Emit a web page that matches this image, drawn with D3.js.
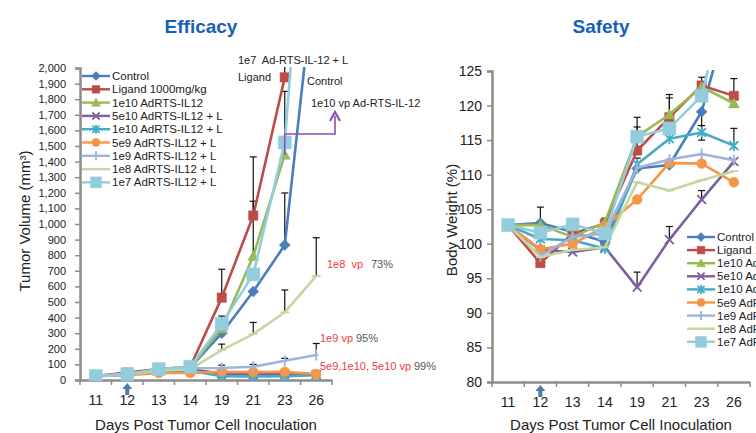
<!DOCTYPE html>
<html>
<head>
<meta charset="utf-8">
<script src="https://cdn.jsdelivr.net/npm/d3@7"></script>
<style>
  body { margin: 0; background: #fff; overflow: hidden; }
  svg { display: block; font-family: "Liberation Sans", Arial, sans-serif; }
  text { white-space: pre; }
</style>
</head>
<body>
<svg id="chart" width="756" height="433"></svg>
<script>
// ---- data ----
const days = ['11', '12', '13', '14', '19', '21', '23', '26'];
const seriesNames = [
  'Control', 'Ligand 1000mg/kg', '1e10 AdRTS-IL12', '5e10 AdRTS-IL12 + L',
  '1e10 AdRTS-IL12 + L', '5e9 AdRTS-IL12 + L', '1e9 AdRTS-IL12 + L',
  '1e8 AdRTS-IL12 + L', '1e7 AdRTS-IL12 + L'
];
const seriesColors = ['#4a7ebb', '#be4b48', '#98b954', '#7d5fa0', '#46aac5', '#f59646', '#9fb3dc', '#c4d79e', '#93cddd'];
const seriesMarkers = ['diamond', 'square', 'triangle', 'x', 'asterisk', 'circle', 'plus', 'dash', 'bigsquare'];

// tumor volume (mm3)
const tumorControl  = [25, 38, 68, 80, 300, 567, 865, 2700];
const tumorLigand   = [25, 48, 70, 85, 528, 1054, 1940, null];
const tumor1e10     = [25, 40, 65, 80, 330, 794, 1444, null];
const tumor5e10L    = [25, 38, 60, 70, 40, 35, 38, 35];
const tumor1e10L    = [25, 35, 58, 60, 25, 22, 25, 30];
const tumor5e9L     = [25, 30, 45, 45, 53, 51, 52, 38];
const tumor1e9L     = [25, 40, 62, 75, 77, 85, 123, 160];
const tumor1e8L     = [25, 35, 60, 70, 192, 294, 434, 667];
const tumor1e7L     = [25, 37, 70, 85, 360, 677, 1523, 4100];
const tumorSeries = [tumorControl, tumorLigand, tumor1e10, tumor5e10L, tumor1e10L, tumor5e9L, tumor1e9L, tumor1e8L, tumor1e7L];
// upper error bars: [series index, day index, top value]
const tumorErrors = [
  [1, 4, 710], [2, 4, 410], [1, 5, 1430], [2, 5, 1146], [0, 6, 1199], [8, 6, 1850], [1, 6, 2100],
  [7, 4, 230], [7, 5, 369], [7, 6, 577], [7, 7, 912],
  [6, 4, 95], [6, 5, 100], [6, 6, 139], [6, 7, 234]
];
const tumorTicks = d3.range(0, 2001, 100);

// body weight (%)
const weightControl = [102.7, 103.0, 101.7, 100.3, 110.9, 111.4, 119.1, 135.9];
const weightLigand  = [102.7, 97.2, 101.5, 102.9, 113.5, 118.3, 122.9, 121.4];
const weight1e10    = [102.7, 102.7, 101.0, 103.1, 115.5, 118.7, 122.7, 120.3];
const weight5e10L   = [102.7, 99.1, 98.8, 99.5, 93.7, 100.6, 106.4, 111.9];
const weight1e10L   = [102.7, 100.7, 100.5, 99.3, 111.5, 115.2, 116.1, 114.2];
const weight5e9L    = [102.7, 99.2, 100.0, 102.5, 106.4, 111.7, 111.6, 108.9];
const weight1e9L    = [102.7, 98.2, 101.0, 101.5, 111.0, 112.2, 113.0, 112.1];
const weight1e8L    = [102.7, 98.1, 99.1, 99.5, 108.9, 107.7, 109.2, 110.5];
const weight1e7L    = [102.7, 101.6, 102.8, 101.5, 115.5, 116.7, 121.4, 140.5];
const weightSeries = [weightControl, weightLigand, weight1e10, weight5e10L, weight1e10L, weight5e9L, weight1e9L, weight1e8L, weight1e7L];
const weightErrors = [
  [0, 1, 105.3], [1, 3, 103.7], [2, 4, 118.3], [1, 4, 116.9], [4, 4, 112.4], [3, 4, 95.9],
  [1, 5, 121.6], [2, 5, 121.1], [3, 5, 102.5],
  [2, 6, 124.1], [4, 6, 117.1], [0, 6, 115.0], [3, 6, 107.7],
  [1, 7, 123.9], [4, 7, 116.7]
];
const weightTicks = d3.range(80, 126, 5);

const svg = d3.select('#chart');
const axisColor = '#8c8c8c';
const textColor = '#222';

function markerPath(type, r) {
  const p = d3.path();
  if (type === 'diamond') {
    p.moveTo(0, -r); p.lineTo(r, 0); p.lineTo(0, r); p.lineTo(-r, 0); p.closePath();
  } else if (type === 'square') {
    p.rect(-r * 0.85, -r * 0.85, r * 1.7, r * 1.7);
  } else if (type === 'bigsquare') {
    p.rect(-r, -r, r * 2, r * 2);
  } else if (type === 'triangle') {
    p.moveTo(0, -r); p.lineTo(r, r * 0.8); p.lineTo(-r, r * 0.8); p.closePath();
  } else if (type === 'circle') {
    p.arc(0, 0, r * 0.9, 0, Math.PI * 2);
  } else if (type === 'x') {
    p.moveTo(-r * 0.8, -r * 0.8); p.lineTo(r * 0.8, r * 0.8);
    p.moveTo(r * 0.8, -r * 0.8); p.lineTo(-r * 0.8, r * 0.8);
  } else if (type === 'asterisk') {
    p.moveTo(-r * 0.8, -r * 0.8); p.lineTo(r * 0.8, r * 0.8);
    p.moveTo(r * 0.8, -r * 0.8); p.lineTo(-r * 0.8, r * 0.8);
    p.moveTo(0, -r); p.lineTo(0, r);
  } else if (type === 'plus') {
    p.moveTo(0, -r); p.lineTo(0, r);
    p.moveTo(-r * 0.4, 0); p.lineTo(r * 0.4, 0);
  } else if (type === 'dash') {
    p.moveTo(-r * 0.8, 0); p.lineTo(r * 0.8, 0);
  }
  return p.toString();
}

function drawMarker(g, type, color, x, y, r) {
  const stroked = ['x', 'asterisk', 'plus', 'dash'].includes(type);
  g.append('path')
    .attr('transform', `translate(${x},${y})`)
    .attr('d', markerPath(type, r))
    .attr('fill', stroked ? 'none' : color)
    .attr('stroke', color)
    .attr('stroke-width', stroked ? 1.8 : 0.5);
}

function drawPanel(opt) {
  const { left, top, width, height, domain, ticks, tickFmt, tickFont, data, errors, id } = opt;
  const x = d3.scaleBand().domain(days).range([left, left + width]);
  const y = d3.scaleLinear().domain(domain).range([top + height, top]);
  const cx = d => x(d) + x.bandwidth() / 2;

  // y axis
  const yAxis = svg.append('g')
    .attr('transform', `translate(${left},0)`)
    .call(d3.axisLeft(y).tickValues(ticks).tickFormat(tickFmt).tickSize(5).tickPadding(opt.yPad));
  yAxis.select('.domain').attr('stroke', axisColor).attr('stroke-width', 2.5);
  yAxis.selectAll('.tick line').attr('stroke', axisColor).attr('stroke-width', 1.5);
  yAxis.selectAll('.tick text').attr('fill', textColor).style('font-size', tickFont + 'px');

  // x axis, labels centred in bands, ticks on band edges
  const xAxis = svg.append('g')
    .attr('transform', `translate(0,${top + height})`)
    .call(d3.axisBottom(x).tickSize(0).tickPadding(15));
  xAxis.select('.domain').attr('stroke', axisColor).attr('stroke-width', 2.5);
  xAxis.selectAll('.tick text').attr('fill', textColor).style('font-size', '14px');
  xAxis.selectAll('.edge')
    .data(days.concat(['end']))
    .enter().append('line')
    .attr('x1', (d, i) => left + i * x.bandwidth())
    .attr('x2', (d, i) => left + i * x.bandwidth())
    .attr('y1', 0).attr('y2', 5)
    .attr('stroke', axisColor).attr('stroke-width', 1.5);

  // clip to plot area
  svg.append('clipPath').attr('id', id)
    .append('rect').attr('x', left).attr('y', top - 1).attr('width', width + 10).attr('height', height + 2);
  const plot = svg.append('g').attr('clip-path', `url(#${id})`);

  // error bars
  errors.forEach(([s, d, v]) => {
    const base = data[s][d];
    const xx = cx(days[d]);
    plot.append('line').attr('x1', xx).attr('x2', xx)
      .attr('y1', y(base)).attr('y2', y(v)).attr('stroke', '#111').attr('stroke-width', 1.2);
    plot.append('line').attr('x1', xx - 3.5).attr('x2', xx + 3.5)
      .attr('y1', y(v)).attr('y2', y(v)).attr('stroke', '#111').attr('stroke-width', 1.2);
  });

  const line = d3.line()
    .defined(d => d.v !== null)
    .x(d => cx(d.day))
    .y(d => y(d.v));

  data.forEach((vals, s) => {
    const pts = vals.map((v, i) => ({ day: days[i], v }));
    plot.append('path')
      .attr('d', line(pts))
      .attr('fill', 'none')
      .attr('stroke', seriesColors[s])
      .attr('stroke-width', 2.6)
      .attr('stroke-linejoin', 'round');
    const mg = plot.append('g');
    pts.filter(p => p.v !== null).forEach(p => {
      drawMarker(mg, seriesMarkers[s], seriesColors[s], cx(p.day), y(p.v), seriesMarkers[s] === 'bigsquare' ? 6.5 : 5.5);
    });
  });

  // start arrow under day 12
  const ax = cx('12');
  const ay = top + height + 3;
  svg.append('path')
    .attr('d', `M${ax},${ay} L${ax + 5},${ay + 6} L${ax + 2},${ay + 6} L${ax + 2},${ay + 12} L${ax - 2},${ay + 12} L${ax - 2},${ay + 6} L${ax - 5},${ay + 6} Z`)
    .attr('fill', '#4f7aa8');

  // axis title
  svg.append('text')
    .attr('x', left + width / 2).attr('y', 430)
    .attr('text-anchor', 'middle').attr('fill', textColor)
    .style('font-size', '15px')
    .text('Days Post Tumor Cell Inoculation');

  // legend
  const lg = svg.append('g');
  seriesNames.forEach((name, i) => {
    const ly = opt.legendY + i * opt.legendStep;
    lg.append('line').attr('x1', opt.legendX).attr('x2', opt.legendX + 28)
      .attr('y1', ly).attr('y2', ly).attr('stroke', seriesColors[i]).attr('stroke-width', 2.4);
    drawMarker(lg, seriesMarkers[i], seriesColors[i], opt.legendX + 14, ly, seriesMarkers[i] === 'bigsquare' ? 5.5 : 4.5);
    lg.append('text').attr('x', opt.legendX + 30).attr('y', ly + 4)
      .attr('fill', textColor).style('font-size', '11.5px').text(name);
  });

  return { x, y, cx };
}

// ---- Efficacy ----
const eff = drawPanel({
  id: 'clipL', left: 80, top: 68, width: 252, height: 312,
  domain: [0, 2000], ticks: tumorTicks, tickFmt: d3.format(','), tickFont: 11, yPad: 9,
  data: tumorSeries, errors: tumorErrors,
  legendX: 82, legendY: 76, legendStep: 13.3
});

// ---- Safety ----
const saf = drawPanel({
  id: 'clipR', left: 492, top: 71, width: 258, height: 311,
  domain: [80, 125], ticks: weightTicks, tickFmt: d3.format('d'), tickFont: 14, yPad: 5,
  data: weightSeries, errors: weightErrors,
  legendX: 687, legendY: 237, legendStep: 13.1
});

// titles
svg.append('text').attr('x', 201).attr('y', 33).attr('text-anchor', 'middle')
  .attr('fill', '#1760b8').style('font-size', '19px').style('font-weight', 'bold').text('Efficacy');
svg.append('text').attr('x', 601).attr('y', 33).attr('text-anchor', 'middle')
  .attr('fill', '#1760b8').style('font-size', '19px').style('font-weight', 'bold').text('Safety');

// y axis titles
svg.append('text').attr('transform', 'translate(30,221) rotate(-90)')
  .attr('text-anchor', 'middle').attr('fill', textColor).style('font-size', '15px')
  .text('Tumor Volume (mm³)');
svg.append('text').attr('transform', 'translate(457,220) rotate(-90)')
  .attr('text-anchor', 'middle').attr('fill', textColor).style('font-size', '15px')
  .text('Body Weight (%)');

// efficacy annotations
const note = (x, y, t, c) => svg.append('text').attr('x', x).attr('y', y)
  .attr('fill', c || textColor).style('font-size', '11px').text(t);
note(238, 64, '1e7  Ad-RTS-IL-12 + L');
note(238, 81, 'Ligand');
note(307, 85, 'Control');
note(311, 107, '1e10 vp Ad-RTS-IL-12');
note(327, 268, '1e8  vp', '#ee3b43');
note(371, 268, '73%', '#555');
note(320, 342, '1e9 vp', '#ee3b43');
note(356, 342, '95%', '#555');
note(320, 370, '5e9,1e10, 5e10 vp', '#ee3b43');
note(414, 370, '99%', '#555');

// purple bracket pointing at the 1e10 group
const bx = eff.cx('23');
const by = eff.y(tumor1e10[6]);
const hy = 134;
const ax2 = 335;
svg.append('path')
  .attr('d', `M${bx},${by} L${bx},${hy} L${ax2},${hy} L${ax2},${116}`)
  .attr('fill', 'none').attr('stroke', '#8a4fb0').attr('stroke-width', 1.6);
svg.append('path')
  .attr('d', `M${ax2 - 5},${121} L${ax2},${112} L${ax2 + 5},${121}`)
  .attr('fill', 'none').attr('stroke', '#8a4fb0').attr('stroke-width', 2.2);
</script>
</body>
</html>
